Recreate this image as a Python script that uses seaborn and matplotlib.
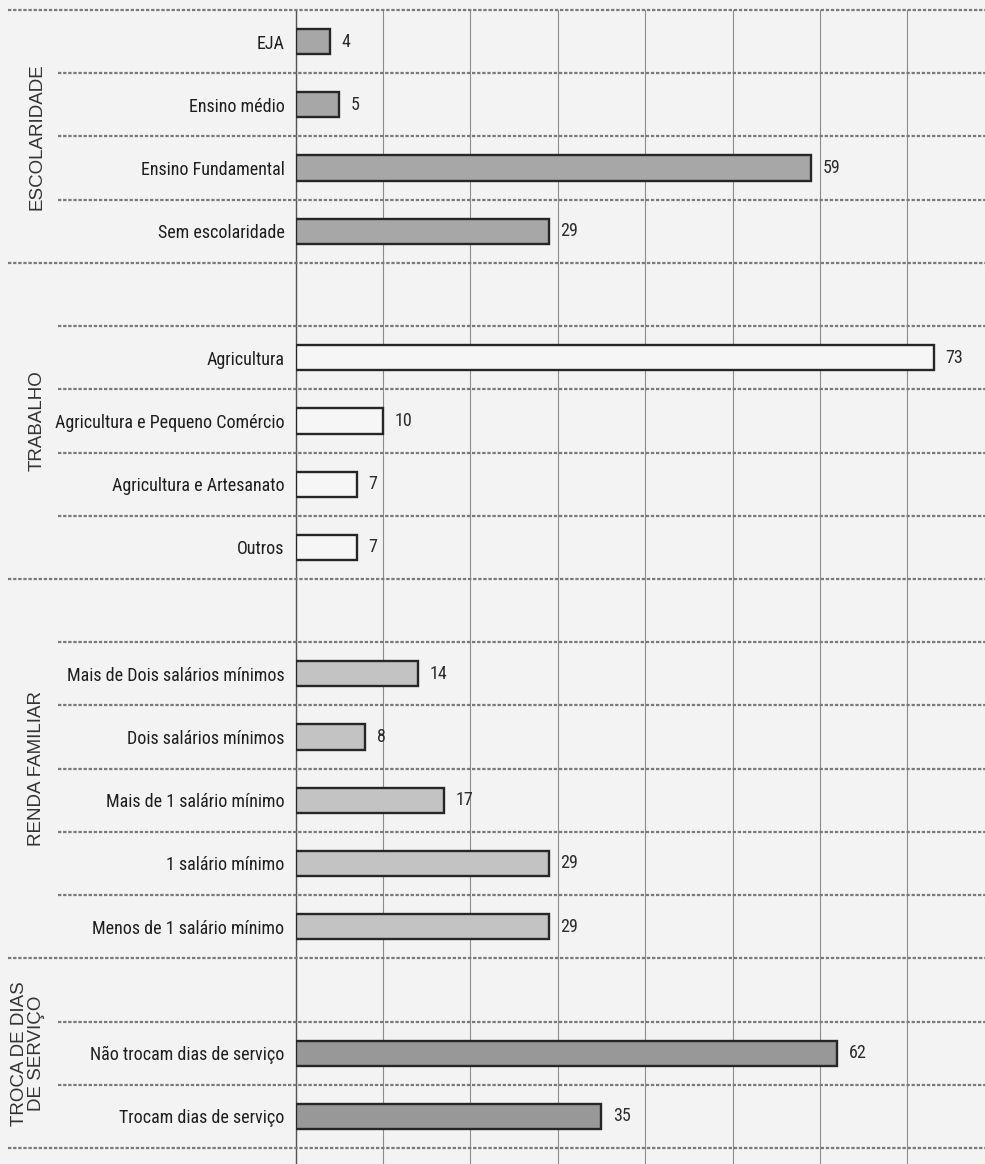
import numpy as np
import pandas as pd
import seaborn as sns
import matplotlib.pyplot as plt
import matplotlib.transforms as mtransforms
import matplotlib.font_manager as fm
from matplotlib.lines import Line2D

# ---- data -------------------------------------------------------------
sections = ["ESCOLARIDADE", "TRABALHO", "RENDA FAMILIAR", "TROCA DE DIAS\nDE SERVIÇO"]

escolaridade_labels = ["EJA", "Ensino médio", "Ensino Fundamental", "Sem escolaridade"]
escolaridade_values = [4, 5, 59, 29]

trabalho_labels = ["Agricultura", "Agricultura e Pequeno Comércio",
                   "Agricultura e Artesanato", "Outros"]
trabalho_values = [73, 10, 7, 7]

renda_labels = ["Mais de Dois salários mínimos", "Dois salários mínimos",
                "Mais de 1 salário mínimo", "1 salário mínimo",
                "Menos de 1 salário mínimo"]
renda_values = [14, 8, 17, 29, 29]

troca_labels = ["Não trocam dias de serviço", "Trocam dias de serviço"]
troca_values = [62, 35]

section_colors = ["#a7a7a7", "#f6f6f6", "#c3c3c3", "#989898"]

groups = [
    (escolaridade_labels, escolaridade_values),
    (trabalho_labels, trabalho_values),
    (renda_labels, renda_values),
    (troca_labels, troca_values),
]

# ---- table + row order (an empty spacer row opens every later group) ---
records = []
order = []
section_rows = []
for gi, ((labels, values), sec) in enumerate(zip(groups, sections)):
    start = len(order)
    if gi > 0:
        order.append(" " * gi)
    for lab, val in zip(labels, values):
        order.append(lab)
        records.append({"label": lab, "value": val, "section": sec})
    section_rows.append((start, len(order) - 1))
df = pd.DataFrame(records)


# ---- narrow face for category and value labels ---------------------------
def narrow_font(size_narrow, size_regular):
    entries = fm.fontManager.ttflist
    names = {f.name for f in entries}
    for name in ["Liberation Sans Narrow", "Arial Narrow", "Roboto Condensed",
                 "Open Sans Condensed", "Noto Sans Condensed"]:
        if name in names:
            return fm.FontProperties(family=name, size=size_narrow)
    for fam in ["Liberation Sans", "Noto Sans", "Roboto", "Open Sans", "DejaVu Sans"]:
        for f in entries:
            if f.name == fam and str(f.stretch) in ("condensed", "semi-condensed",
                                                     "extra-condensed"):
                return fm.FontProperties(family=fam, stretch=f.stretch,
                                         size=size_narrow)
    return fm.FontProperties(family="Liberation Sans", size=size_regular)


label_font = narrow_font(13, 11.3)

# ---- figure -----------------------------------------------------------
W, H = 985, 1164
bg = "#f3f3f3"
sns.set_theme(style="white")
plt.rcParams["font.family"] = ["Liberation Sans", "DejaVu Sans"]

fig = plt.figure(figsize=(W / 100, H / 100), dpi=100, facecolor=bg)
x0_px, top_px = 295.5, 10
ax = fig.add_axes([x0_px / W, 0, (W - x0_px) / W, (H - top_px) / H])
ax.set_facecolor(bg)

sns.barplot(data=df, x="value", y="label", hue="section", order=order,
            hue_order=sections, palette=section_colors, width=0.4,
            dodge=False, saturation=1, edgecolor="#262626", linewidth=1.7,
            legend=False, ax=ax, zorder=3)

row_px = (1148 - top_px) / len(order)
rows_visible = (H - top_px) / row_px
ax.set_ylim(-0.5 + rows_visible, -0.5)
px_per_unit = 8.74
ax.set_xlim(0, (W - x0_px) / px_per_unit)

# value labels at the end of every bar
for _, r in df.iterrows():
    yi = order.index(r["label"])
    ax.text(r["value"] + 1.3, yi, f"{r['value']}", va="center", ha="left",
            color="#2b2b2b", zorder=4, fontproperties=label_font)

# vertical grid
ax.set_xticks(np.arange(0, 80, 10))
ax.grid(axis="x", color="#8c8c8c", linewidth=0.8, zorder=0)
ax.grid(axis="y", visible=False)
ax.tick_params(axis="x", length=0, labelbottom=False)
ax.tick_params(axis="y", length=0, pad=8, labelcolor="#1e1e1e")
for lbl in ax.get_yticklabels():
    lbl.set_fontproperties(label_font)
ax.set_xlabel("")
ax.set_ylabel("")
for side in ["top", "right", "bottom"]:
    ax.spines[side].set_visible(False)
ax.spines["left"].set_color("#555555")
ax.spines["left"].set_linewidth(1.0)

# dotted row separators; group borders reach the far left
trans = mtransforms.blended_transform_factory(fig.transFigure, ax.transData)
group_bounds = {-0.5} | {end + 0.5 for _, end in section_rows}
for b in np.arange(-0.5, len(order), 1.0):
    xs = 8 / W if b in group_bounds else 58 / W
    ln = Line2D([xs, 1.0], [b, b], transform=trans, color="#7a7a7a",
                linewidth=1.6, linestyle=(0, (1.5, 0.8)), zorder=5)
    fig.add_artist(ln)

# group titles
for (start, end), sec in zip(section_rows, sections):
    yc = (start + end) / 2
    xt = 28 / W if "\n" in sec else 37 / W
    fig.text(xt, yc, sec, rotation=90, ha="center", va="center",
             multialignment="center", fontsize=13.5, color="#333333",
             family=["Liberation Sans", "DejaVu Sans"], linespacing=0.95,
             transform=trans)

fig.savefig("out.png", dpi=100, facecolor=bg)
